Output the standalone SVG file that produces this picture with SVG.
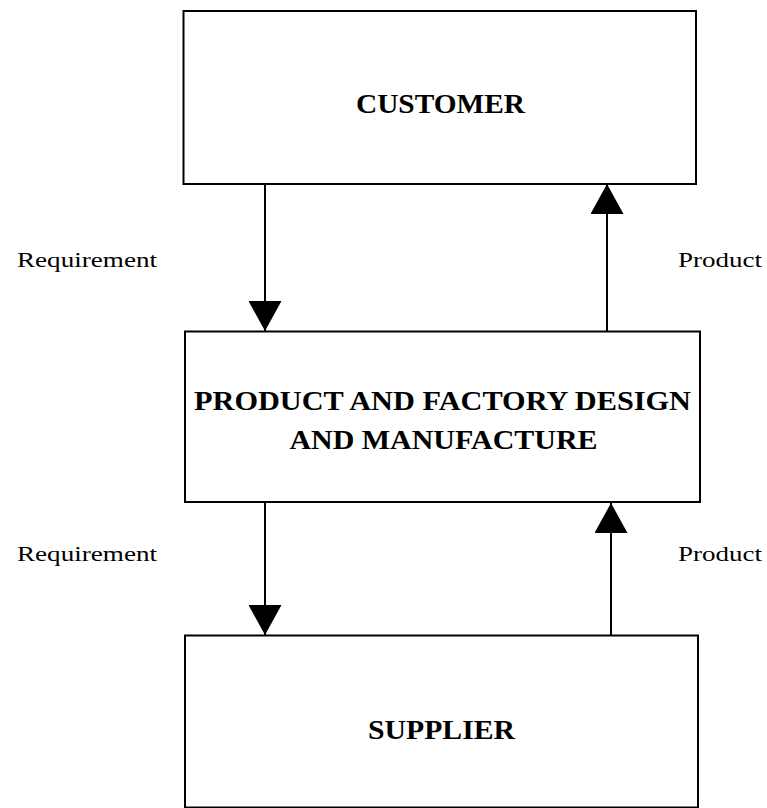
<svg xmlns="http://www.w3.org/2000/svg" width="767" height="808" viewBox="0 0 767 808">
  <defs>
    <marker id="head" markerUnits="userSpaceOnUse" markerWidth="30" markerHeight="33" viewBox="0 0 30 33" refX="30" refY="16.5" orient="auto">
      <path d="M0,0 L30,16.5 L0,33 Z" fill="#000"/>
    </marker>
  </defs>
  <style>
    .box { fill: #fff; stroke: #000; stroke-width: 2; }
    .title { font-family: "Liberation Serif", "Times New Roman", serif; font-weight: bold; font-size: 28px; fill: #000; text-anchor: middle; }
    .label { font-family: "Liberation Serif", "Times New Roman", serif; font-size: 21px; fill: #000; }
    .conn { stroke: #000; stroke-width: 2; fill: none; marker-end: url(#head); }
  </style>
  <rect width="767" height="808" fill="#fff"/>
  <g id="customer">
    <rect class="box" x="183.5" y="11" width="512.5" height="173"/>
    <text class="title" x="440.5" y="113" textLength="169" lengthAdjust="spacingAndGlyphs">CUSTOMER</text>
  </g>
  <g id="manufacture">
    <rect class="box" x="185" y="331.5" width="515" height="170.5"/>
    <text class="title" x="442.5" y="410" textLength="497" lengthAdjust="spacingAndGlyphs">PRODUCT AND FACTORY DESIGN</text>
    <text class="title" x="443.5" y="449" textLength="308" lengthAdjust="spacingAndGlyphs">AND MANUFACTURE</text>
  </g>
  <g id="supplier">
    <rect class="box" x="185" y="635.5" width="513" height="172"/>
    <text class="title" x="441.5" y="739" textLength="147" lengthAdjust="spacingAndGlyphs">SUPPLIER</text>
  </g>
  <g id="connectors">
    <line class="conn" x1="265" y1="184" x2="265" y2="331"/>
    <line class="conn" x1="607" y1="331" x2="607" y2="184"/>
    <line class="conn" x1="265" y1="502" x2="265" y2="635"/>
    <line class="conn" x1="611" y1="635" x2="611" y2="503"/>
  </g>
  <g id="labels">
    <text class="label" x="17" y="267" textLength="140" lengthAdjust="spacingAndGlyphs">Requirement</text>
    <text class="label" x="678" y="267" textLength="84" lengthAdjust="spacingAndGlyphs">Product</text>
    <text class="label" x="17" y="561" textLength="140" lengthAdjust="spacingAndGlyphs">Requirement</text>
    <text class="label" x="678" y="561" textLength="84" lengthAdjust="spacingAndGlyphs">Product</text>
  </g>
</svg>
